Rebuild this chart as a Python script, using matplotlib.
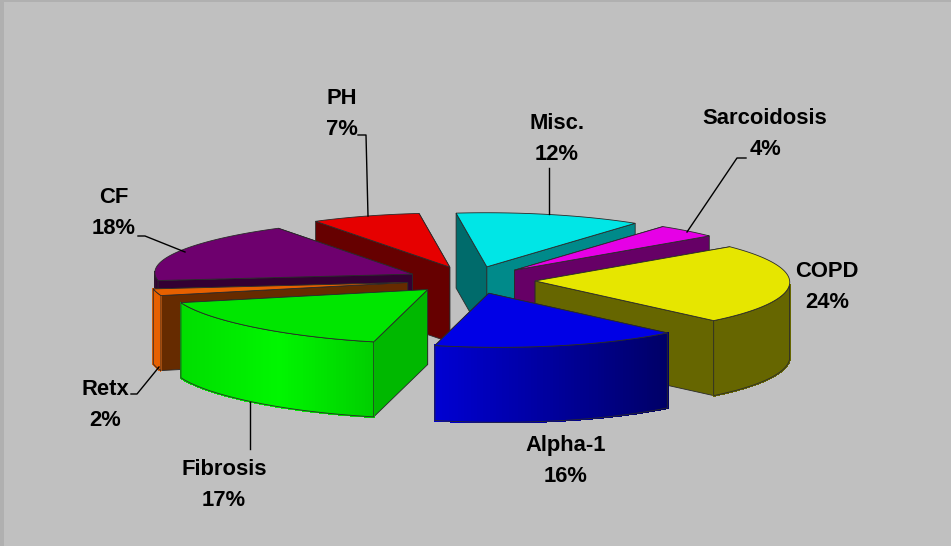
import numpy as np
import matplotlib
matplotlib.use('Agg')
import matplotlib.pyplot as plt
from matplotlib.colors import to_rgb
from matplotlib.patches import Polygon, Rectangle

labels = ['COPD', 'Alpha-1', 'Fibrosis', 'Retx', 'CF', 'PH', 'Misc.', 'Sarcoidosis']
values = [24, 16, 17, 2, 18, 7, 12, 4]

# colours per slice: top, cut face at start angle, cut face at end angle
top_colors = ['#e6e600', '#0000e6', '#00e600', '#e66000', '#6e006e', '#e60000', '#00e6e6', '#e600e6']
start_faces = ['#666600', '#000066', '#00b800', '#662b00', '#330033', '#660000', '#006b6b', '#660066']
end_faces = ['#666600', '#000066', '#00b800', '#662b00', '#330033', '#660000', '#008a8a', '#660066']
# outer wall, left to right on screen
wall_colors = [['#666600', '#666600'], ['#0000d2', '#000066'], ['#00de00', '#00f600', '#00ce00'],
               ['#e66000', '#e66000'], ['#330033', '#330033'], ['#660000', '#660000'],
               ['#006b6b', '#006b6b'], ['#660066', '#660066']]

# back to front
draw_order = [5, 6, 7, 4, 3, 0, 2, 1]

label_pos = [(827, 287), (566, 461), (224, 485), (105, 405), (114, 213), (342, 114), (557, 139), (765, 134)]
leaders = [None, None, [(250, 402), (250, 449)], [(159, 367), (137, 394), (131, 394)],
           [(185, 252), (145, 236), (138, 236)], [(368, 216), (366, 135), (358, 135)],
           [(549, 214), (549, 168)], [(687, 232), (737, 158), (746, 158)]]

START_ANGLE = 42.4
CENTER = (471, 280)
EXPLODE = 0.252
DEPTH = 75


def rim(theta):
    """screen offset of a rim point, theta in degrees"""
    t = np.radians(theta)
    c, s = np.cos(t), np.sin(t)
    dx = 4.5 + 250 * c + 8.3 * s - 12 * np.clip(-c, 0, 1) ** 4
    dy = -54 * s + 3 * c
    return dx, dy


def wall_color(stops, f):
    stops = np.array([to_rgb(c) for c in stops])
    pos = np.linspace(0, 1, len(stops))
    return [np.interp(f, pos, stops[:, i]) for i in range(3)]


fig = plt.figure(figsize=(9.51, 5.46), dpi=100, facecolor='#c0c0c0')
ax = fig.add_axes([0, 0, 1, 1])
ax.set_xlim(0, 951)
ax.set_ylim(546, 0)
ax.axis('off')

ax.add_patch(Rectangle((0, 0), 951, 2, fc='#b0b0b0', ec='none'))
ax.add_patch(Rectangle((0, 0), 4, 546, fc='#b0b0b0', ec='none'))

edge = dict(ec='#2a2a2a', lw=0.6)
sweeps = np.array(values) * 3.6
ends = START_ANGLE - np.cumsum(sweeps)
starts = ends + sweeps

for i in draw_order:
    mid = (starts[i] + ends[i]) / 2
    mx, my = rim(mid)
    ax_, ay = CENTER[0] + EXPLODE * mx, CENTER[1] + EXPLODE * my
    th = np.linspace(starts[i], ends[i], 80)
    dx, dy = rim(th)
    rx, ry = ax_ + dx, ay + dy

    # cut faces, the upper one first
    faces = [(rx[0], ry[0], start_faces[i]), (rx[-1], ry[-1], end_faces[i])]
    faces.sort(key=lambda f: f[1])
    for fx, fy, col in faces:
        ax.add_patch(Polygon([(ax_, ay), (fx, fy), (fx, fy + DEPTH), (ax_, ay + DEPTH)],
                             fc=col, zorder=2, **edge))

    # outer wall, only the part facing the viewer
    vis = np.sin(np.radians(th)) < 0.0
    if vis.sum() > 1:
        vx, vy = rx[vis], ry[vis]
        lo, hi = vx.min(), vx.max()
        for j in range(len(vx) - 1):
            f = ((vx[j] + vx[j + 1]) / 2 - lo) / (hi - lo)
            col = wall_color(wall_colors[i], f)
            ax.add_patch(Polygon([(vx[j], vy[j]), (vx[j + 1], vy[j + 1]),
                                  (vx[j + 1], vy[j + 1] + DEPTH), (vx[j], vy[j] + DEPTH)],
                                 fc=col, ec=col, lw=1, antialiased=False, zorder=2))
        outline = np.r_[np.c_[vx, vy], np.c_[vx[::-1], vy[::-1] + DEPTH]]
        ax.add_patch(Polygon(outline, fill=False, zorder=2, **edge))

    top = np.r_[[[ax_, ay]], np.c_[rx, ry]]
    ax.add_patch(Polygon(top, fc=top_colors[i], zorder=2, **edge))

for i, name in enumerate(labels):
    if leaders[i]:
        xs, ys = zip(*leaders[i])
        ax.plot(xs, ys, color='black', lw=1, zorder=3)
    ax.text(label_pos[i][0], label_pos[i][1], f'{name}\n{values[i]}%', ha='center', va='center',
            family='Liberation Sans', weight='bold', fontsize=15.8, linespacing=1.65, color='black', zorder=4)

fig.savefig('out.png', dpi=100, facecolor=fig.get_facecolor())
